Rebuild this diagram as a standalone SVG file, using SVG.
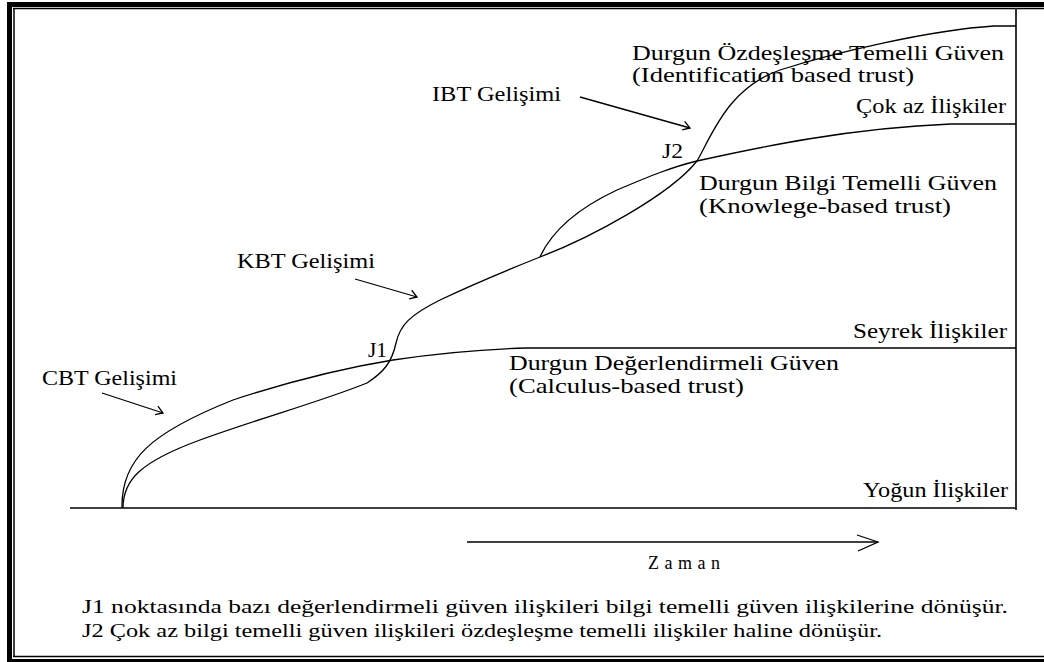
<svg xmlns="http://www.w3.org/2000/svg" width="1044" height="662" viewBox="0 0 1044 662">
<defs>
<style>
.t{font-family:"Liberation Serif","Times New Roman",serif;font-size:21px;fill:#000}
.f{font-family:"Liberation Serif","Times New Roman",serif;font-size:18px;fill:#000}
.c{fill:none;stroke:#000;stroke-width:1.3}
.b{fill:#000}
.bl{stroke:#000;stroke-width:1.5;fill:none}
</style>
<marker id="ah" markerWidth="12" markerHeight="12" refX="0" refY="0" viewBox="-10 -6 12 12" orient="auto" markerUnits="userSpaceOnUse">
<path d="M-7,-5 L0,0 L-7,4" fill="none" stroke="#000" stroke-width="1.3"/>
</marker>
</defs>
<rect width="1044" height="662" fill="#fff"/>
<g id="frame">
<rect class="b" x="7" y="2" width="1037" height="5"/>
<rect class="b" x="7" y="2" width="5" height="660"/>
<rect class="b" x="7" y="659" width="1037" height="3"/>
<line class="bl" x1="13" y1="8.5" x2="1044" y2="8.5"/>
<line class="bl" x1="14" y1="8" x2="14" y2="657"/>
<line class="bl" x1="13" y1="656.5" x2="1044" y2="656.5"/>
</g>
<g id="axes">
<line x1="70" y1="508" x2="1017" y2="508" stroke="#000" stroke-width="1.6"/>
<line x1="1016" y1="8" x2="1016" y2="510" stroke="#333" stroke-width="2"/>
</g>
<g id="connectors">
<path id="cbt-upper" class="c" d="M122,508 C121,460 150,433 233,400 C300,378 350,367 393,360 C440,353 490,349 527,348 L1016,348"/>
<path id="cbt-lower-kbt" class="c" d="M123,508 C123,480 140,462 200,440 C260,418 320,402 367,383 C384,372 392,362 396,343 C400,325 410,315 440,300 C480,281 510,269 540,257"/>
<path id="ibt" class="c" d="M540,257 C590,238 670,195 697,161 C712,135 728,88 780,70 C833,53 930,30 994,26 L1016,26"/>
<path id="kbt-upper" class="c" d="M540,257 C550,235 570,212 617,190 C650,176 672,167 697,161 C760,147 850,128 951,124 L1016,124"/>
<line class="c" x1="580" y1="97" x2="690" y2="128" marker-end="url(#ah)"/>
<line class="c" x1="355" y1="279" x2="417" y2="297" marker-end="url(#ah)"/>
<line class="c" x1="102" y1="393" x2="163" y2="413" marker-end="url(#ah)"/>
<line class="c" x1="467" y1="542" x2="878" y2="542"/>
<polyline class="c" points="857,535 878,542 858,551"/>
</g>
<g id="labels">
<text class="t" x="632" y="60" textLength="372" lengthAdjust="spacingAndGlyphs">Durgun Özdeşleşme Temelli Güven</text>
<text class="t" x="632" y="82" textLength="282" lengthAdjust="spacingAndGlyphs">(Identification based trust)</text>
<text class="t" x="432" y="101" textLength="129" lengthAdjust="spacingAndGlyphs">IBT Gelişimi</text>
<text class="t" x="856" y="113" textLength="150" lengthAdjust="spacingAndGlyphs">Çok az İlişkiler</text>
<text class="t" x="662" y="158" textLength="21" lengthAdjust="spacingAndGlyphs">J2</text>
<text class="t" x="699" y="190" textLength="298" lengthAdjust="spacingAndGlyphs">Durgun Bilgi Temelli Güven</text>
<text class="t" x="699" y="213" textLength="252" lengthAdjust="spacingAndGlyphs">(Knowlege-based trust)</text>
<text class="t" x="237" y="268" textLength="138" lengthAdjust="spacingAndGlyphs">KBT Gelişimi</text>
<text class="t" x="853" y="338" textLength="154" lengthAdjust="spacingAndGlyphs">Seyrek İlişkiler</text>
<text class="t" x="368" y="357" textLength="19" lengthAdjust="spacingAndGlyphs">J1</text>
<text class="t" x="509" y="370" textLength="330" lengthAdjust="spacingAndGlyphs">Durgun Değerlendirmeli Güven</text>
<text class="t" x="509" y="393" textLength="235" lengthAdjust="spacingAndGlyphs">(Calculus-based trust)</text>
<text class="t" x="42" y="385" textLength="135" lengthAdjust="spacingAndGlyphs">CBT Gelişimi</text>
<text class="t" x="863" y="497" textLength="145" lengthAdjust="spacingAndGlyphs">Yoğun İlişkiler</text>
<text class="f" x="648" y="569" textLength="72" lengthAdjust="spacing">Zaman</text>
<text class="f" x="82" y="613" textLength="926" lengthAdjust="spacingAndGlyphs">J1 noktasında bazı değerlendirmeli güven ilişkileri bilgi temelli güven ilişkilerine dönüşür.</text>
<text class="f" x="82" y="637" textLength="800" lengthAdjust="spacingAndGlyphs">J2 Çok az bilgi temelli güven ilişkileri özdeşleşme temelli ilişkiler haline dönüşür.</text>
</g>
</svg>
